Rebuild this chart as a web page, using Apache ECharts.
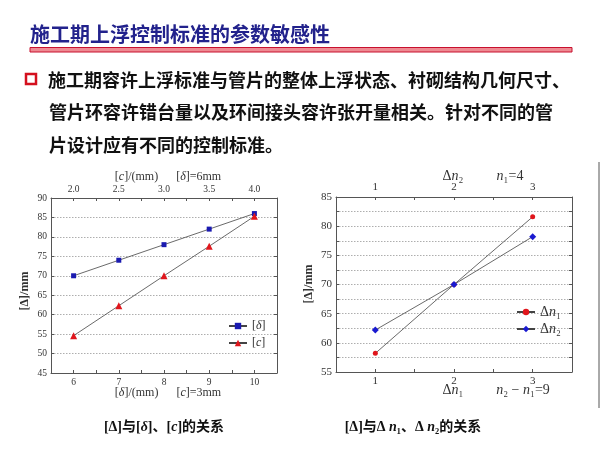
<!DOCTYPE html>
<html><head><meta charset="utf-8">
<script src="https://cdn.jsdelivr.net/npm/echarts@6/dist/echarts.min.js"></script>
<style>html,body{margin:0;padding:0;background:#fff}#c{width:600px;height:450px}</style>
</head><body><div id="c"></div>
<script>
// Left chart data
const deltaX = [6, 7, 8, 9, 10];          // [δ]/(mm), bottom axis
const deltaVals = [70, 74, 78, 82, 86];   // [Δ] vs [δ]
const cX = [2.0, 2.5, 3.0, 3.5, 4.0];     // [c]/(mm), top axis
const cVals = [54.6, 62.3, 70, 77.6, 85.3];
// Right chart data
const nX = [1, 2, 3];
const dn1Vals = [58.2, 70, 81.6];
const dn2Vals = [62.2, 70, 78.2];

const SERIF = "'Liberation Serif','DejaVu Serif',serif";
const CJK = "'Noto Sans CJK SC','Noto Sans',sans-serif";
const MIX = "'Liberation Serif','Noto Sans CJK SC',serif";
const axisColor = '#555';
const isInt = v => Math.abs(v - Math.round(v)) < 1e-6;
const isHalf = v => Math.abs(v * 2 - Math.round(v * 2)) < 1e-6;
const isFive = v => Math.abs(v / 5 - Math.round(v / 5)) < 1e-6;

function xAx(grid, pos, min, max, interval, fmt, fs) {
  return {
    type: 'value', gridIndex: grid, position: pos, min: min, max: max, interval: interval,
    axisLine: {show: true, onZero: false, lineStyle: {color: axisColor, width: 1}},
    axisTick: {show: true, inside: true, length: 3, lineStyle: {color: axisColor}},
    axisLabel: {show: true, margin: 4, color: '#333', fontFamily: SERIF, fontSize: fs, formatter: fmt,
      showMinLabel: true, showMaxLabel: true},
    splitLine: {show: false}
  };
}
function yAx(grid, pos, min, max, interval, fmt, fs, showLabel, split) {
  return {
    type: 'value', gridIndex: grid, position: pos, min: min, max: max, interval: interval,
    axisLine: {show: true, onZero: false, lineStyle: {color: axisColor, width: 1}},
    axisTick: {show: true, inside: true, length: 3, lineStyle: {color: axisColor}},
    axisLabel: {show: showLabel, margin: 4, color: '#333', fontFamily: SERIF, fontSize: fs, formatter: fmt},
    splitLine: {show: split, lineStyle: {color: '#999', type: [1.5, 1.5], width: 0.8}}
  };
}

const chart = echarts.init(document.getElementById('c'), null, {renderer: 'canvas'});
const lineStyle = {color: '#444', width: 0.8};

const option = {
  backgroundColor: '#fff',
  animation: false,
  grid: [
    {left: 51, top: 198, width: 226, height: 175, show: false},
    {left: 336, top: 197, width: 236, height: 175, show: false}
  ],
  xAxis: [
    xAx(0, 'bottom', 5.5, 10.5, 0.5, v => isInt(v) && v > 5.6 && v < 10.4 ? String(Math.round(v)) : '', 9.5),
    xAx(0, 'top', 1.75, 4.25, 0.25, v => isHalf(v) && v > 1.8 && v < 4.2 ? v.toFixed(1) : '', 9.5),
    xAx(1, 'bottom', 0.5, 3.5, 0.5, v => isInt(v) && v > 0.6 && v < 3.4 ? String(Math.round(v)) : '', 11),
    xAx(1, 'top', 0.5, 3.5, 0.5, v => isInt(v) && v > 0.6 && v < 3.4 ? String(Math.round(v)) : '', 11)
  ],
  yAxis: [
    yAx(0, 'left', 45, 90, 5, v => String(v), 9.5, true, true),
    yAx(0, 'right', 45, 90, 5, v => '', 9.5, false, false),
    yAx(1, 'left', 55, 85, 2.5, v => isFive(v) ? String(Math.round(v)) : '', 11, true, true),
    yAx(1, 'right', 55, 85, 2.5, v => '', 11, false, false)
  ],
  legend: [
    {
      data: ['δ', 'c'], orient: 'vertical', left: 223, top: 315, itemGap: 5,
      itemWidth: 18, itemHeight: 8,
      formatter: n => '[{i|' + n + '}]',
      textStyle: {fontFamily: SERIF, fontSize: 12, color: '#333', rich: {i: {fontStyle: 'italic', fontFamily: SERIF, fontSize: 12, color: '#333'}}}
    },
    {
      data: ['Δn1', 'Δn2'], orient: 'vertical', left: 511, top: 300, itemGap: 3,
      itemWidth: 18, itemHeight: 8,
      formatter: n => 'Δ{i|n}{s|' + (n.endsWith('1') ? '₁' : '₂') + '}',
      textStyle: {fontFamily: SERIF, fontSize: 14, color: '#333',
        rich: {i: {fontStyle: 'italic', fontFamily: SERIF, fontSize: 14, color: '#333'},
               s: {fontFamily: SERIF, fontSize: 14, color: '#333'}}}
    }
  ],
  series: [
    {name: 'δ', type: 'line', xAxisIndex: 0, yAxisIndex: 0,
      data: deltaX.map((x, i) => [x, deltaVals[i]]),
      symbol: 'rect', symbolSize: 5, itemStyle: {color: '#1a1ab0'}, lineStyle: lineStyle},
    {name: 'c', type: 'line', xAxisIndex: 1, yAxisIndex: 0,
      data: cX.map((x, i) => [x, cVals[i]]),
      symbol: 'triangle', symbolSize: 7, itemStyle: {color: '#e0161c'}, lineStyle: lineStyle},
    {name: 'Δn1', type: 'line', xAxisIndex: 2, yAxisIndex: 2,
      data: nX.map((x, i) => [x, dn1Vals[i]]),
      symbol: 'circle', symbolSize: 5, itemStyle: {color: '#e0161c'}, lineStyle: lineStyle},
    {name: 'Δn2', type: 'line', xAxisIndex: 3, yAxisIndex: 2,
      data: nX.map((x, i) => [x, dn2Vals[i]]),
      symbol: 'diamond', symbolSize: 7, itemStyle: {color: '#1a1ad0'}, lineStyle: lineStyle}
  ],
  graphic: [
    {type: 'text', left: 30, top: 24, style: {text: '施工期上浮控制标准的参数敏感性', font: 'bold 20px ' + CJK, fill: '#22228c'}},
    {type: 'rect', shape: {x: 30, y: 47.5, width: 542, height: 4.5}, style: {fill: '#ee8a92', stroke: '#c8102e', lineWidth: 1}},
    {type: 'rect', shape: {x: 26, y: 74, width: 10, height: 10}, style: {fill: '#fff', stroke: '#d4101e', lineWidth: 2.5}},
    {type: 'text', left: 48, top: 71, style: {text: '施工期容许上浮标准与管片的整体上浮状态、衬砌结构几何尺寸、', font: 'bold 18px ' + CJK, fill: '#111'}},
    {type: 'text', left: 49, top: 103, style: {text: '管片环容许错台量以及环间接头容许张开量相关。针对不同的管', font: 'bold 18px ' + CJK, fill: '#111'}},
    {type: 'text', left: 49, top: 136, style: {text: '片设计应有不同的控制标准。', font: 'bold 18px ' + CJK, fill: '#111'}},
    {type: 'line', shape: {x1: 599, y1: 162, x2: 599, y2: 408}, style: {stroke: '#555', lineWidth: 1}},
    // left chart axis names
    {type: 'text', x: 168, y: 177, style: {text: '[{i|c}]/(mm)      [{i|δ}]=6mm', align: 'center', verticalAlign: 'middle',
      font: '12px ' + SERIF, fill: '#333', rich: {i: {fontStyle: 'italic', fontFamily: SERIF, fontSize: 12, fill: '#333'}}}},
    {type: 'text', x: 168, y: 393, style: {text: '[{i|δ}]/(mm)      [{i|c}]=3mm', align: 'center', verticalAlign: 'middle',
      font: '12px ' + SERIF, fill: '#333', rich: {i: {fontStyle: 'italic', fontFamily: SERIF, fontSize: 12, fill: '#333'}}}},
    {type: 'text', x: 25, y: 291, rotation: Math.PI / 2, style: {text: '[Δ]/mm', align: 'center', verticalAlign: 'middle',
      font: 'bold 12px ' + SERIF, fill: '#333'}},
    // right chart axis names
    {type: 'text', x: 453, y: 176, style: {text: 'Δ{i|n}₂', align: 'center', verticalAlign: 'middle',
      font: '14px ' + SERIF, fill: '#333', rich: {i: {fontStyle: 'italic', fontFamily: SERIF, fontSize: 14, fill: '#333'}}}},
    {type: 'text', x: 510, y: 176, style: {text: '{i|n}₁=4', align: 'center', verticalAlign: 'middle',
      font: '14px ' + SERIF, fill: '#333', rich: {i: {fontStyle: 'italic', fontFamily: SERIF, fontSize: 14, fill: '#333'}}}},
    {type: 'text', x: 453, y: 390, style: {text: 'Δ{i|n}₁', align: 'center', verticalAlign: 'middle',
      font: '14px ' + SERIF, fill: '#333', rich: {i: {fontStyle: 'italic', fontFamily: SERIF, fontSize: 14, fill: '#333'}}}},
    {type: 'text', x: 523, y: 390, style: {text: '{i|n}₂ − {i|n}₁=9', align: 'center', verticalAlign: 'middle',
      font: '14px ' + SERIF, fill: '#333', rich: {i: {fontStyle: 'italic', fontFamily: SERIF, fontSize: 14, fill: '#333'}}}},
    {type: 'text', x: 309, y: 284, rotation: Math.PI / 2, style: {text: '[Δ]/mm', align: 'center', verticalAlign: 'middle',
      font: 'bold 12px ' + SERIF, fill: '#333'}},
    // captions
    {type: 'text', x: 164, y: 427, style: {text: '[Δ]与[{i|δ}]、[{i|c}]的关系', align: 'center', verticalAlign: 'middle',
      font: 'bold 14px ' + MIX, fill: '#111', rich: {i: {fontStyle: 'italic', fontWeight: 'bold', fontFamily: SERIF, fontSize: 14, fill: '#111'}}}},
    {type: 'text', x: 413, y: 427, style: {text: '[Δ]与Δ {i|n}₁、Δ {i|n}₂的关系', align: 'center', verticalAlign: 'middle',
      font: 'bold 14px ' + MIX, fill: '#111', rich: {i: {fontStyle: 'italic', fontWeight: 'bold', fontFamily: SERIF, fontSize: 14, fill: '#111'}}}}
  ]
};
chart.setOption(option);
</script></body></html>
